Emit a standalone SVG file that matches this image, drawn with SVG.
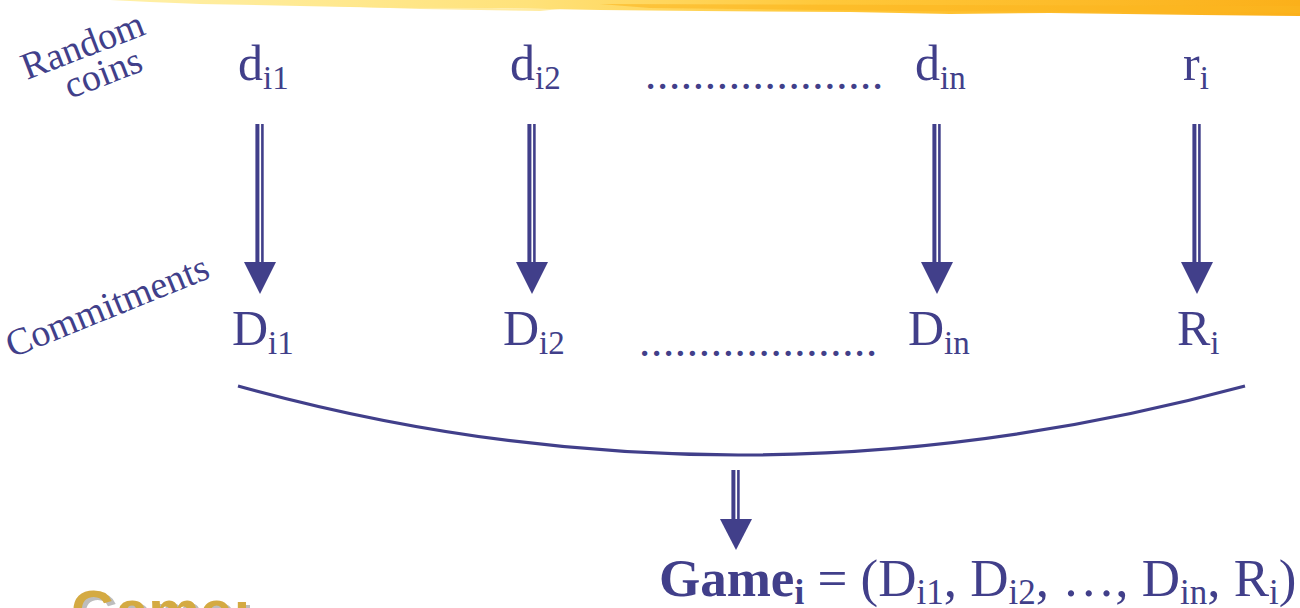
<svg xmlns="http://www.w3.org/2000/svg" width="1300" height="608" viewBox="0 0 1300 608">
<defs>
<linearGradient id="band" x1="0" y1="0" x2="1" y2="0">
<stop offset="0" stop-color="#fff0a8"/>
<stop offset="0.35" stop-color="#ffe27a"/>
<stop offset="0.6" stop-color="#ffc83a"/>
<stop offset="1" stop-color="#fbb01a"/>
</linearGradient>
<g id="arr">
<line x1="-2.6" y1="0" x2="-2.6" y2="140" stroke="#413f8a" stroke-width="4"/>
<line x1="2.4" y1="0" x2="2.4" y2="140" stroke="#413f8a" stroke-width="2.6"/>
<polygon points="-16,138 16,138 0,170" fill="#413f8a"/>
</g>
</defs>
<style>
.t{font-family:"Liberation Serif","Times New Roman",serif;fill:#413f8a}
.m{font-size:50px}
.s{font-size:33px}
.g{font-size:53px}
.gs{font-size:35px}
.dots{font-size:45px;letter-spacing:0.7px}
.lbl{font-family:"Liberation Serif","Times New Roman",serif;fill:#413f8a;font-size:38px}
.gold{font-family:"Liberation Sans",Arial,sans-serif;font-weight:bold;font-size:58px}
</style>
<rect width="1300" height="608" fill="#ffffff"/>
<g id="banner">
<path d="M110,0 L1300,0 L1300,16 L1200,15 L1050,13 L950,14 L850,12 L700,11 L600,10 L500,8 L400,8 L300,6 L200,4 L150,2 Z" fill="url(#band)"/>
<path d="M600,4 L1300,6 L1300,13 L900,11 L650,8 Z" fill="#fbb520" opacity="0.6"/>
<path d="M330,6 L560,9 L540,11 L420,9 Z" fill="#ffe68a" opacity="0.8"/>
</g>
<g id="label-random" class="lbl">
<text transform="translate(27,80) rotate(-21)">Random</text>
<text transform="translate(70,99) rotate(-21)">coins</text>
</g>
<g id="label-commit" class="lbl">
<text transform="translate(12,358) rotate(-22)">Commitments</text>
</g>
<g id="d-i1"><text class="t m" x="238" y="80">d<tspan class="s" dy="9">i1</tspan></text></g>
<g id="d-i2"><text class="t m" x="510" y="80">d<tspan class="s" dy="9">i2</tspan></text></g>
<g id="dots1"><text class="t dots" x="645" y="89">....................</text></g>
<g id="d-in"><text class="t m" x="915" y="80">d<tspan class="s" dy="9">in</tspan></text></g>
<g id="r-i"><text class="t m" x="1183" y="80">r<tspan class="s" dy="9">i</tspan></text></g>
<g id="D-i1"><text class="t m" x="232" y="345">D<tspan class="s" dy="9">i1</tspan></text></g>
<g id="D-i2"><text class="t m" x="503" y="345">D<tspan class="s" dy="9">i2</tspan></text></g>
<g id="dots2"><text class="t dots" x="639" y="356">....................</text></g>
<g id="D-in"><text class="t m" x="908" y="345">D<tspan class="s" dy="9">in</tspan></text></g>
<g id="R-i"><text class="t m" x="1177" y="345">R<tspan class="s" dy="9">i</tspan></text></g>
<g id="connectors">
<use href="#arr" transform="translate(260,124)"/>
<use href="#arr" transform="translate(532,124)"/>
<use href="#arr" transform="translate(937,124)"/>
<use href="#arr" transform="translate(1197,124)"/>
<path d="M238,386 Q735,524 1245,386" fill="none" stroke="#413f8a" stroke-width="3.2"/>
<line x1="733.4" y1="470" x2="733.4" y2="522" stroke="#413f8a" stroke-width="4"/>
<line x1="738.4" y1="470" x2="738.4" y2="522" stroke="#413f8a" stroke-width="2.6"/>
<polygon points="720,519 752,519 736,550" fill="#413f8a"/>
</g>
<g id="game">
<text class="t g" x="659" y="596"><tspan font-weight="bold">Game</tspan><tspan class="gs" font-weight="bold" dy="8">i</tspan><tspan dy="-8"> = (D</tspan><tspan class="gs" dy="8">i1</tspan><tspan dy="-8">, D</tspan><tspan class="gs" dy="8">i2</tspan><tspan dy="-8">, …, D</tspan><tspan class="gs" dy="8">in</tspan><tspan dy="-8">, R</tspan><tspan class="gs" dy="8">i</tspan><tspan dy="-8">)</tspan></text>
</g>
<g id="title-game">
<text class="gold" x="75" y="634" fill="#bdbdbd">Game:</text>
<text class="gold" x="71" y="631" fill="#d4aa42">Game:</text>
</g>
</svg>
